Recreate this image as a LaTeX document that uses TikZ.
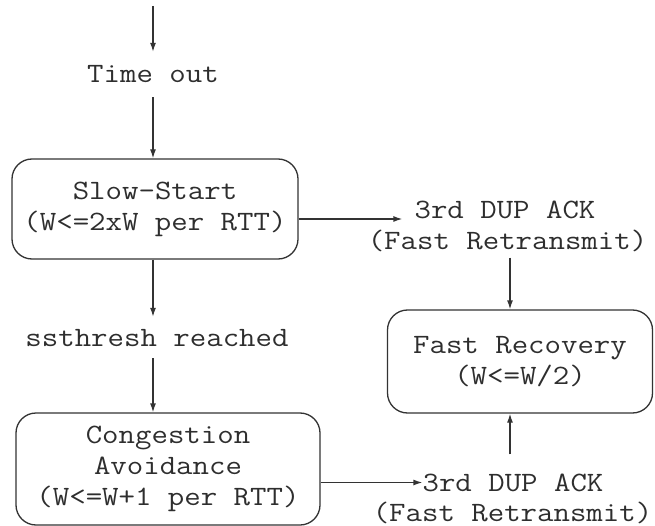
\documentclass[tikz,border=0pt]{standalone}
\usepackage{fontspec}
\newfontfamily\typew[FakeStretch=1.14]{Latin Modern Mono}
\usetikzlibrary{arrows.meta}
\definecolor{linegray}{HTML}{333333}
\definecolor{txtgray}{HTML}{2E2E2E}
\begin{document}
\begin{tikzpicture}[x=1pt,y=-1pt,
  ink/.style={draw=linegray, line width=1.3pt},
  txt/.style={text=txtgray, font=\typew\fontsize{28}{31}\selectfont},
  state/.style={ink, txt, rounded corners=20pt, inner sep=0pt, align=center},
  lbl/.style={txt, inner sep=0pt, text height=17pt, text depth=0pt},
  flow/.style={ink, -{Latex[length=9pt,width=6pt]}}]
\useasboundingbox (0,0) rectangle (655,526);

% states
\node[state, minimum width=286pt, minimum height=100pt] (ss) at (155,209)
  {Slow-Start\\(W<=2xW per RTT)};
\node[state, minimum width=304pt, minimum height=112pt] (ca) at (168,469)
  {Congestion\\Avoidance\\(W<=W+1 per RTT)};
\node[state, minimum width=265pt, minimum height=103pt] (fr) at (520,361.5)
  {Fast Recovery\\(W<=W/2)};

% events
\node[lbl] (timeout) at (153,74) {Time out};
\node[lbl] (ssth) at (157,338) {ssthresh reached};
\node[lbl] (dupA1) at (505,210.5) {3rd DUP ACK};
\node[lbl] (dupA2) at (507.5,241.5) {(Fast Retransmit)};
\node[lbl] (dupB1) at (513,482.5) {3rd DUP ACK};
\node[lbl] (dupB2) at (512.5,512.5) {(Fast Retransmit)};
\coordinate (entry) at (153,6);

% transitions
\draw[flow, shorten >=13.5pt] (entry) -- (entry |- timeout.north);
\draw[flow, shorten <=14.5pt] (timeout.south) -- (timeout.south |- ss.north);
\draw[flow, shorten >=12.5pt] (ss.south -| timeout.south) -- (ssth.north -| timeout.south);
\draw[flow, shorten <=11.5pt] (ssth.south -| timeout.south) -- (ca.north -| timeout.south);
\draw[flow, shorten >=12pt] (ss.east |- dupA1.base) -- (dupA1.base west);
\draw[flow, shorten <=7.5pt] ([xshift=2.5pt]dupA2.south) -- ([xshift=2.5pt]dupA2.south |- fr.north);
\draw[flow] (ca.east |- dupB1.west) -- (dupB1.west);
\draw[flow, shorten <=19.5pt] ([xshift=-3pt]dupB1.north) -- ([xshift=-3pt]dupB1.north |- fr.south);
\end{tikzpicture}
\end{document}
